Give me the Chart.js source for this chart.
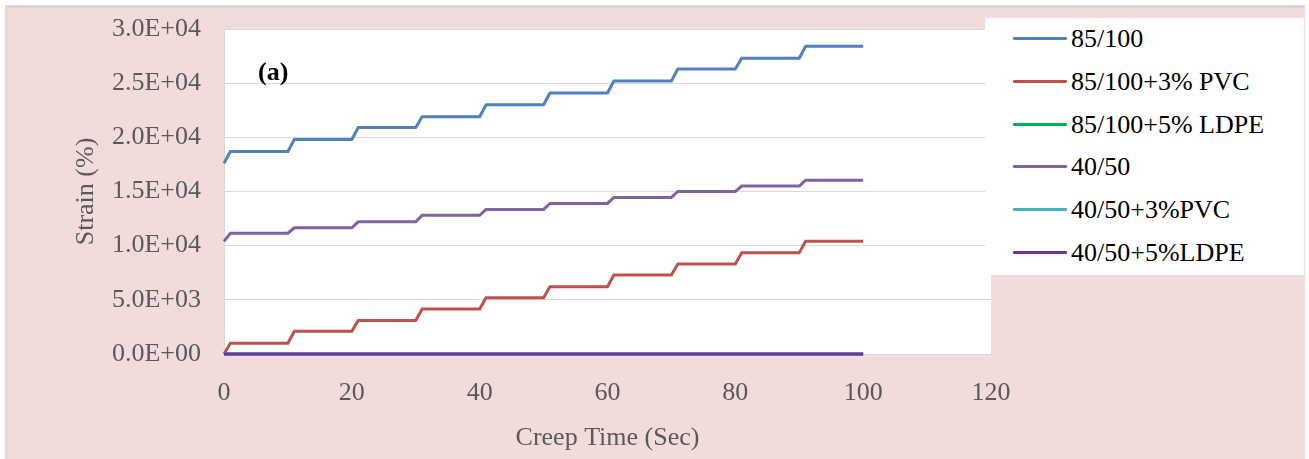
<!DOCTYPE html>
<html>
<head>
<meta charset="utf-8">
<title>Creep strain</title>
<script src="https://cdn.jsdelivr.net/npm/chart.js@4.4.0/dist/chart.umd.min.js"></script>
<style>
  html, body { margin: 0; padding: 0; background: #fff; }
  #frame {
    position: absolute; left: 5px; top: 5px;
    width: 1298px; height: 451px;
    background: #f2dcdb;
    border-top: 3px solid #d9d9d9;
    border-left: 2px solid #d9d9d9;
    font-family: "Liberation Serif", "Times New Roman", serif;
  }
  #strainChart { position: absolute; left: 0; top: 0; }
  #panelTag {
    position: absolute; left: 251px; top: 48px;
    font-size: 26px; font-weight: bold; line-height: 31px; color: #000;
  }
  #legend {
    position: absolute; left: 978px; top: 10px;
    width: 319px; height: 257px; background: #fff;
  }
  .legend-row {
    position: absolute; left: 0; height: 31px;
    display: flex; align-items: center;
    font-size: 26px; line-height: 31px; color: #000; white-space: nowrap;
  }
  .legend-swatch { display: inline-block; width: 54px; height: 3px; margin-left: 28px; margin-right: 4px; border-radius: 1px; }
</style>
</head>
<body>
<div id="frame">
  <canvas id="strainChart" width="1298" height="451"></canvas>
  <div id="panelTag">(a)</div>
  <div id="legend"></div>
</div>
<script>
// creep time (s) at each step corner
var creepTime = [0, 1, 10, 11, 20, 21, 30, 31, 40, 41, 50, 51, 60, 61, 70, 71, 80, 81, 90, 91, 100];

var labels = ['85/100', '85/100+3% PVC', '85/100+5% LDPE', '40/50', '40/50+3%PVC', '40/50+5%LDPE'];
var colors = ['#4f81bd', '#c0504d', '#00b050', '#8064a2', '#4bacc6', '#7030a0'];

var strain85 = [17600, 18700, 18700, 19800, 19800, 20900, 20900, 21900, 21900, 23000, 23000,
  24100, 24100, 25200, 25200, 26300, 26300, 27300, 27300, 28400, 28400];
var strain85Pvc = [0, 1000, 1000, 2100, 2100, 3100, 3100, 4150, 4150, 5200, 5200,
  6200, 6200, 7300, 7300, 8300, 8300, 9350, 9350, 10400, 10400];
var strain85Ldpe = [0, 0, 0, 0, 0, 0, 0, 0, 0, 0, 0, 0, 0, 0, 0, 0, 0, 0, 0, 0, 0];
var strain40 = [10400, 11150, 11150, 11650, 11650, 12200, 12200, 12800, 12800, 13350, 13350,
  13900, 13900, 14450, 14450, 15000, 15000, 15500, 15500, 16050, 16050];
var strain40Pvc = [0, 0, 0, 0, 0, 0, 0, 0, 0, 0, 0, 0, 0, 0, 0, 0, 0, 0, 0, 0, 0];
var strain40Ldpe = [0, 0, 0, 0, 0, 0, 0, 0, 0, 0, 0, 0, 0, 0, 0, 0, 0, 0, 0, 0, 0];

var yTicks = [0, 5000, 10000, 15000, 20000, 25000, 30000];
var xTicks = [0, 20, 40, 60, 80, 100, 120];

var series = [strain85, strain85Pvc, strain85Ldpe, strain40, strain40Pvc, strain40Ldpe];

function toPoints(values) {
  return values.map(function(v, i) { return { x: creepTime[i], y: v }; });
}

// Excel style scientific label, e.g. 2.5E+04
function sciLabel(v) {
  if (v === 0) return '0.0E+00';
  var exp = Math.floor(Math.log10(Math.abs(v)));
  var mant = (v / Math.pow(10, exp)).toFixed(1);
  var e = String(Math.abs(exp));
  if (e.length < 2) e = '0' + e;
  return mant + 'E' + (exp < 0 ? '-' : '+') + e;
}

// last series is drawn on top (lower order = drawn later)
var datasets = series.map(function(values, i) {
  return {
    label: labels[i],
    data: toPoints(values),
    borderColor: colors[i],
    backgroundColor: colors[i],
    borderWidth: 3,
    pointRadius: 0,
    tension: 0,
    clip: false,
    order: series.length - i
  };
});

var plotBackground = {
  id: 'plotBackground',
  beforeDraw: function(chart) {
    var a = chart.chartArea;
    chart.ctx.save();
    chart.ctx.fillStyle = '#ffffff';
    chart.ctx.fillRect(a.left, a.top, a.right - a.left, a.bottom - a.top);
    chart.ctx.restore();
  }
};

var font = { family: '"Liberation Serif", "Times New Roman", serif', size: 26 };

var chart = new Chart(document.getElementById('strainChart'), {
  type: 'line',
  data: { datasets: datasets },
  options: {
    responsive: false,
    animation: false,
    devicePixelRatio: 1,
    layout: { padding: { top: 21, right: 314, bottom: 0, left: 0 } },
    plugins: { legend: { display: false }, tooltip: { enabled: false } },
    scales: {
      x: {
        type: 'linear',
        min: 0,
        max: 120,
        afterBuildTicks: function(scale) { scale.ticks = xTicks.map(function(v) { return { value: v }; }); },
        afterFit: function(scale) { scale.height = 105; },
        grid: { display: false, drawTicks: false },
        border: { display: true, color: '#d9d9d9', width: 1 },
        ticks: { color: '#595959', font: font, padding: 24, maxRotation: 0 },
        title: { display: true, text: 'Creep Time (Sec)', color: '#595959', font: font, padding: { top: 0, bottom: 5 } }
      },
      y: {
        min: 0,
        max: 30000,
        afterBuildTicks: function(scale) { scale.ticks = yTicks.map(function(v) { return { value: v }; }); },
        afterFit: function(scale) {
          scale.width = 217;
          // the top label may overhang the plot; keep the plot edge fixed
          scale.paddingTop = 0;
          scale.paddingBottom = 0;
        },
        grid: { color: '#d9d9d9', lineWidth: 1, drawTicks: false },
        border: { display: true, color: '#d9d9d9', width: 1 },
        ticks: { color: '#595959', font: font, padding: 23, callback: sciLabel },
        title: { display: true, text: 'Strain (%)', color: '#595959', font: font, padding: { top: 64, bottom: 0 } }
      }
    }
  },
  plugins: [plotBackground]
});

// legend rows built from the chart datasets
var legendBox = document.getElementById('legend');
chart.data.datasets.forEach(function(ds, i) {
  var row = document.createElement('div');
  row.className = 'legend-row';
  row.style.top = (5 + i * 42.8) + 'px';
  var sw = document.createElement('span');
  sw.className = 'legend-swatch';
  sw.style.background = ds.borderColor;
  var txt = document.createElement('span');
  txt.textContent = ds.label;
  row.appendChild(sw);
  row.appendChild(txt);
  legendBox.appendChild(row);
});
</script>
</body>
</html>
